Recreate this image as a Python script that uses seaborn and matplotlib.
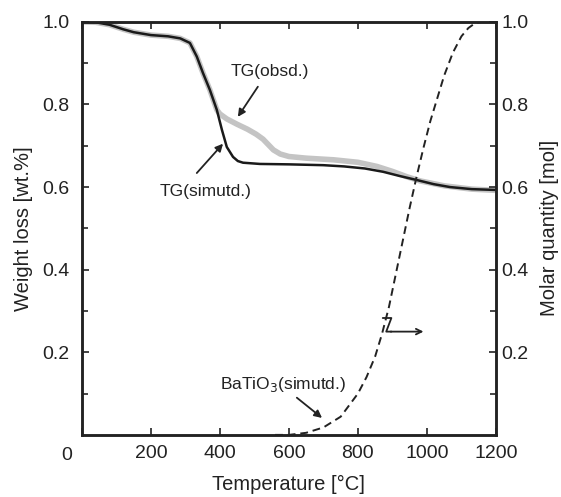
import numpy as np
import pandas as pd
import seaborn as sn
import matplotlib
matplotlib.use("Agg")
import matplotlib.pyplot as plt

temp_sim = [0, 40, 80, 120, 150, 200, 250, 285, 313, 333, 351, 371, 391, 406, 420, 438, 452, 467,
            516, 600, 700, 760, 820, 873, 920, 971, 1020, 1067, 1130, 1200]
tg_sim = [1.0, 0.999, 0.993, 0.982, 0.975, 0.968, 0.965, 0.960, 0.949, 0.916, 0.876, 0.835, 0.787,
          0.738, 0.697, 0.673, 0.663, 0.659, 0.656, 0.655, 0.653, 0.650, 0.645, 0.637, 0.627,
          0.617, 0.607, 0.600, 0.595, 0.593]

temp_obs = [0, 40, 80, 120, 150, 200, 250, 285, 313, 333, 351, 371, 391, 400, 420, 450, 480, 505,
            525, 540, 555, 575, 600, 650, 730, 800, 855, 900, 942, 980, 1050, 1130, 1200]
tg_obs = [1.0, 0.999, 0.993, 0.982, 0.975, 0.968, 0.965, 0.960, 0.949, 0.916, 0.876, 0.835, 0.787,
          0.777, 0.765, 0.752, 0.740, 0.728, 0.716, 0.703, 0.690, 0.680, 0.674, 0.670, 0.666,
          0.660, 0.650, 0.638, 0.625, 0.615, 0.603, 0.595, 0.592]

temp_ba = [560, 600, 650, 700, 750, 800, 825, 850, 870, 890, 910, 930, 950, 970, 990, 1010, 1030,
           1050, 1075, 1100, 1120, 1140, 1160]
mol_ba = [0.0, 0.0, 0.005, 0.018, 0.044, 0.10, 0.14, 0.19, 0.245, 0.31, 0.39, 0.47, 0.55, 0.625,
          0.695, 0.76, 0.815, 0.87, 0.925, 0.965, 0.985, 0.997, 1.0]

x_ticks = [0, 200, 400, 600, 800, 1000, 1200]
y_ticks = [0.2, 0.4, 0.6, 0.8, 1.0]
y_minor = [0.1, 0.3, 0.5, 0.7, 0.9]

sn.set_style("ticks")
plt.rcParams['font.family'] = ['Liberation Sans', 'DejaVu Sans']
fs_tick = 14
fs_label = 14.5
fs_note = 12.5
ink = '#222222'

df_sim = pd.DataFrame({'T': temp_sim, 'TG': tg_sim})
df_obs = pd.DataFrame({'T': temp_obs, 'TG': tg_obs})
df_ba = pd.DataFrame({'T': temp_ba, 'mol': mol_ba})

fig = plt.figure(figsize=(5.61, 4.97), dpi=100)
ax = fig.add_axes([0.146, 0.125, 0.738, 0.831])

sn.lineplot(x='T', y='TG', data=df_obs, ax=ax, color='#c4c4c4', linewidth=4, sort=False)
sn.lineplot(x='T', y='TG', data=df_sim, ax=ax, color='#1a1a1a', linewidth=1.8, sort=False)

ax.set_xlim(0, 1200)
ax.set_ylim(0, 1.0)
ax.set_xticks(x_ticks)
ax.set_xticklabels([''] + [str(t) for t in x_ticks[1:]])
ax.set_yticks(y_ticks)
ax.set_yticks(y_minor, minor=True)
ax.set_xlabel("Temperature [\u00b0C]", fontsize=fs_label, color=ink)
ax.set_ylabel("Weight loss [wt.%]", fontsize=fs_label, color=ink)
ax.xaxis.set_label_coords(0.5, -0.097)
ax.yaxis.set_label_coords(-0.118, 0.5)
ax.tick_params(axis='x', direction='in', top=True, length=5, width=1.2, labelsize=fs_tick, colors=ink, pad=7)
ax.tick_params(axis='y', direction='in', length=5, width=1.2, labelsize=fs_tick, colors=ink, pad=9)
ax.tick_params(which='minor', direction='in', length=4, width=1.2)
ax.annotate('0', xy=(0, 0), xycoords='data', xytext=(-11, -9), textcoords='offset points',
            ha='center', va='top', fontsize=fs_tick, color=ink)

ax2 = ax.twinx()
sn.lineplot(x='T', y='mol', data=df_ba, ax=ax2, color=ink, linewidth=1.4, linestyle=(0, (4, 2.5)))
ax2.set_ylim(0, 1.0)
ax2.set_yticks(y_ticks)
ax2.set_yticks(y_minor, minor=True)
ax2.set_ylabel("Molar quantity [mol]", fontsize=fs_label, color=ink)
ax2.yaxis.set_label_coords(1.107, 0.5)
ax2.tick_params(direction='in', length=5, width=1.2, labelsize=fs_tick, colors=ink, pad=4)
ax2.tick_params(which='minor', direction='in', length=4, width=1.2)

for a in (ax, ax2):
    for s in a.spines.values():
        s.set_linewidth(1.8)
        s.set_color(ink)

arrow = dict(arrowstyle='-|>', color=ink, lw=1.3, mutation_scale=11, shrinkA=0, shrinkB=0)
ax.annotate('', xy=(452, 0.77), xytext=(510, 0.843), arrowprops=arrow)
ax.text(545, 0.879, 'TG(obsd.)', ha='center', va='center', fontsize=fs_note, color=ink)
ax.annotate('', xy=(409, 0.705), xytext=(333, 0.634), arrowprops=arrow)
ax.text(359, 0.589, 'TG(simutd.)', ha='center', va='center', fontsize=fs_note, color=ink)
ax.annotate('', xy=(696, 0.041), xytext=(623, 0.09), arrowprops=arrow)
ax.text(582, 0.121, 'BaTiO$_3$(simutd.)', ha='center', va='center', fontsize=fs_note, color=ink)

# small marker pointing the dashed curve to the right axis
ax2.plot([872, 897, 882, 897], [0.283, 0.283, 0.25, 0.25], color=ink, lw=1.3)
ax2.annotate('', xy=(990, 0.25), xytext=(895, 0.25),
             arrowprops=dict(arrowstyle='->', color=ink, lw=1.3, shrinkA=0, shrinkB=0))

fig.savefig("out.png", dpi=100)
